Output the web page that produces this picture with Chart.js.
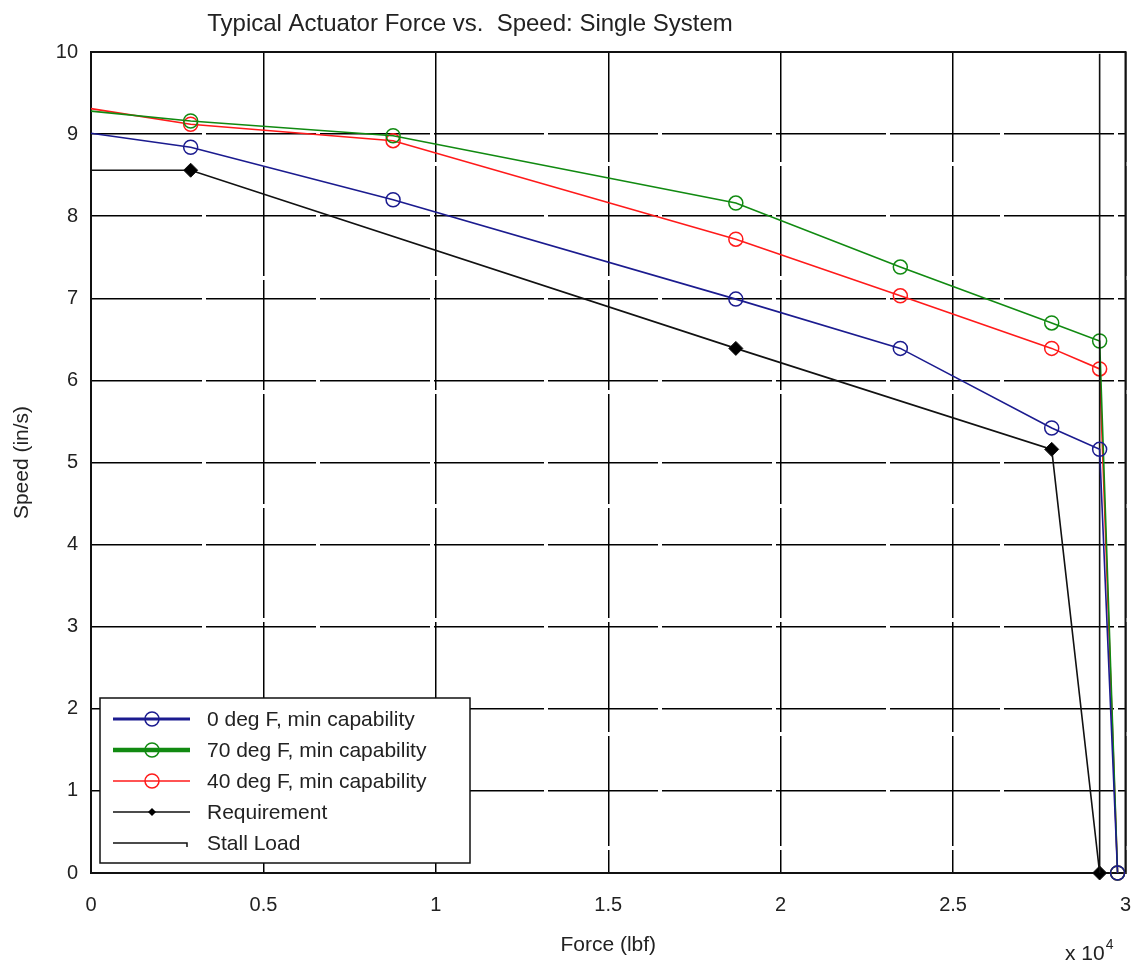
<!DOCTYPE html>
<html>
<head>
<meta charset="utf-8">
<title>Typical Actuator Force vs. Speed</title>
<script src="https://cdn.jsdelivr.net/npm/chart.js@4.4.1/dist/chart.umd.min.js"></script>
<style>
  html, body { margin: 0; padding: 0; background: #fff; }
  #chart { display: block; }
</style>
</head>
<body>
<canvas id="chart" width="1134" height="963"></canvas>
<script>
// force is in units of 10^4 lbf, speed in in/s
const forceCap = [0, 0.289, 0.876, 1.870, 2.347, 2.786, 2.925, 2.977];
const speed0F  = [9.01, 8.84, 8.20, 6.99, 6.39, 5.42, 5.16, 0];
const speed70F = [9.28, 9.16, 8.98, 8.16, 7.38, 6.70, 6.48, 0];
const speed40F = [9.31, 9.12, 8.92, 7.72, 7.03, 6.39, 6.14, 0];

const forceReq = [0, 0.289, 1.870, 2.786, 2.925];
const speedReq = [8.56, 8.56, 6.39, 5.16, 0];

const forceStall = [2.925, 2.925];
const speedStall = [0, 9.98];

const xTicks = [0, 0.5, 1, 1.5, 2, 2.5, 3];
const yTicks = [0, 1, 2, 3, 4, 5, 6, 7, 8, 9, 10];

const FONT = '"Liberation Sans", Arial, Helvetica, sans-serif';

function pts(xs, ys) {
  return xs.map((x, i) => ({ x: x, y: ys[i] }));
}

// markers hidden on the first point (it sits on the axis)
function radii(n, r) {
  return Array.from({ length: n }, (_, i) => (i === 0 ? 0 : r));
}

// frame, title, legend box and the x 10^4 multiplier
const decorations = {
  id: 'decorations',
  beforeDatasetsDraw(chart) {
    const ctx = chart.ctx, a = chart.chartArea;
    ctx.save();
    ctx.strokeStyle = '#111';
    ctx.lineWidth = 2;
    ctx.strokeRect(a.left, a.top, a.right - a.left, a.bottom - a.top);
    ctx.restore();
  },
  afterDraw(chart) {
    const ctx = chart.ctx, a = chart.chartArea;
    ctx.save();

    ctx.fillStyle = '#222';
    ctx.font = '24px ' + FONT;
    ctx.textAlign = 'center';
    ctx.textBaseline = 'middle';
    ctx.fillText('Typical Actuator Force vs.  Speed: Single System', 470, 24);

    // legend
    const left = a.left + 9, bottom = a.bottom - 10;
    const w = 370, h = 165, top = bottom - h;
    ctx.fillStyle = '#fff';
    ctx.fillRect(left, top, w, h);
    ctx.strokeStyle = '#111';
    ctx.lineWidth = 1.5;
    ctx.strokeRect(left, top, w, h);

    ctx.font = '21px ' + FONT;
    ctx.textAlign = 'left';
    chart.data.datasets.forEach((ds, i) => {
      const y = top + 21 + i * 31;
      ctx.strokeStyle = ds.borderColor;
      ctx.lineWidth = ds.legendWidth;
      ctx.beginPath();
      ctx.moveTo(left + 13, y);
      ctx.lineTo(left + (ds.stall ? 87 : 90), y);
      if (ds.stall) ctx.lineTo(left + 87, y + 4);
      ctx.stroke();
      if (ds.pointStyle === 'circle') {
        ctx.lineWidth = 1.5;
        ctx.beginPath();
        ctx.arc(left + 52, y, 7, 0, Math.PI * 2);
        ctx.stroke();
      } else if (ds.pointStyle === 'rectRot') {
        ctx.fillStyle = '#000';
        ctx.beginPath();
        ctx.moveTo(left + 52, y - 4);
        ctx.lineTo(left + 56, y);
        ctx.lineTo(left + 52, y + 4);
        ctx.lineTo(left + 48, y);
        ctx.closePath();
        ctx.fill();
      }
      ctx.fillStyle = '#222';
      ctx.fillText(ds.label, left + 107, y + 1);
    });

    // axis multiplier
    ctx.font = '21px ' + FONT;
    ctx.fillText('x 10', 1065, 954);
    const wx = ctx.measureText('x 10').width;
    ctx.font = '14px ' + FONT;
    ctx.fillText('4', 1065 + wx + 1, 945);
    ctx.restore();
  }
};

const ctx = document.getElementById('chart').getContext('2d');

const chart = new Chart(ctx, {
  type: 'line',
  data: {
    datasets: [{
      label: '0 deg F, min capability',
      data: pts(forceCap, speed0F),
      borderColor: '#1b1b8f',
      borderWidth: 1.6,
      legendWidth: 3,
      pointStyle: 'circle',
      pointRadius: radii(forceCap.length, 7),
      pointBorderWidth: 1.5,
      pointBackgroundColor: 'rgba(0,0,0,0)',
      order: 1
    }, {
      label: '70 deg F, min capability',
      data: pts(forceCap, speed70F),
      borderColor: '#118a11',
      borderWidth: 1.6,
      legendWidth: 4.5,
      pointStyle: 'circle',
      pointRadius: radii(forceCap.length, 7),
      pointBorderWidth: 1.5,
      pointBackgroundColor: 'rgba(0,0,0,0)',
      order: 4
    }, {
      label: '40 deg F, min capability',
      data: pts(forceCap, speed40F),
      borderColor: '#ff1a1a',
      borderWidth: 1.6,
      legendWidth: 1.5,
      pointStyle: 'circle',
      pointRadius: radii(forceCap.length, 7),
      pointBorderWidth: 1.5,
      pointBackgroundColor: 'rgba(0,0,0,0)',
      order: 5
    }, {
      label: 'Requirement',
      data: pts(forceReq, speedReq),
      borderColor: '#111',
      borderWidth: 1.6,
      legendWidth: 1.5,
      pointStyle: 'rectRot',
      pointRadius: radii(forceReq.length, 7),
      pointBorderWidth: 1,
      pointBackgroundColor: '#000',
      order: 3
    }, {
      label: 'Stall Load',
      data: pts(forceStall, speedStall),
      borderColor: '#111',
      borderWidth: 1.6,
      legendWidth: 1.5,
      stall: true,
      pointRadius: 0,
      order: 2
    }]
  },
  options: {
    responsive: false,
    animation: false,
    clip: false,
    layout: { padding: { top: 52, right: 2, left: 0, bottom: 0 } },
    elements: { line: { tension: 0 } },
    plugins: {
      legend: { display: false },
      tooltip: { enabled: false },
      title: { display: false }
    },
    scales: {
      x: {
        type: 'linear',
        min: 0,
        max: 3,
        afterBuildTicks: s => { s.ticks = xTicks.map(v => ({ value: v })); },
        afterFit: s => { s.height = 90; s.paddingRight = 0; s.paddingLeft = 0; },
        ticks: {
          color: '#222', font: { family: FONT, size: 20 }, padding: 20, maxRotation: 0,
          callback: v => String(v)
        },
        grid: { color: '#000', lineWidth: 1.5, drawTicks: false },
        border: { display: true, color: '#111', width: 2, dash: [110, 4] },
        title: {
          display: true, text: 'Force (lbf)', color: '#222',
          font: { family: FONT, size: 21 }, padding: { top: 0, bottom: 5 }
        }
      },
      y: {
        type: 'linear',
        min: 0,
        max: 10,
        afterBuildTicks: s => { s.ticks = yTicks.map(v => ({ value: v })); },
        afterFit: s => { s.width = 91; },
        ticks: { color: '#222', font: { family: FONT, size: 20 }, padding: 13, callback: v => String(v) },
        grid: { color: '#000', lineWidth: 1.5, drawTicks: false },
        border: { display: true, color: '#111', width: 2, dash: [110, 4] },
        title: {
          display: true, text: 'Speed (in/s)', color: '#222',
          font: { family: FONT, size: 21 }, padding: { top: 10, bottom: 0 }
        }
      }
    }
  },
  plugins: [decorations]
});
</script>
</body>
</html>
